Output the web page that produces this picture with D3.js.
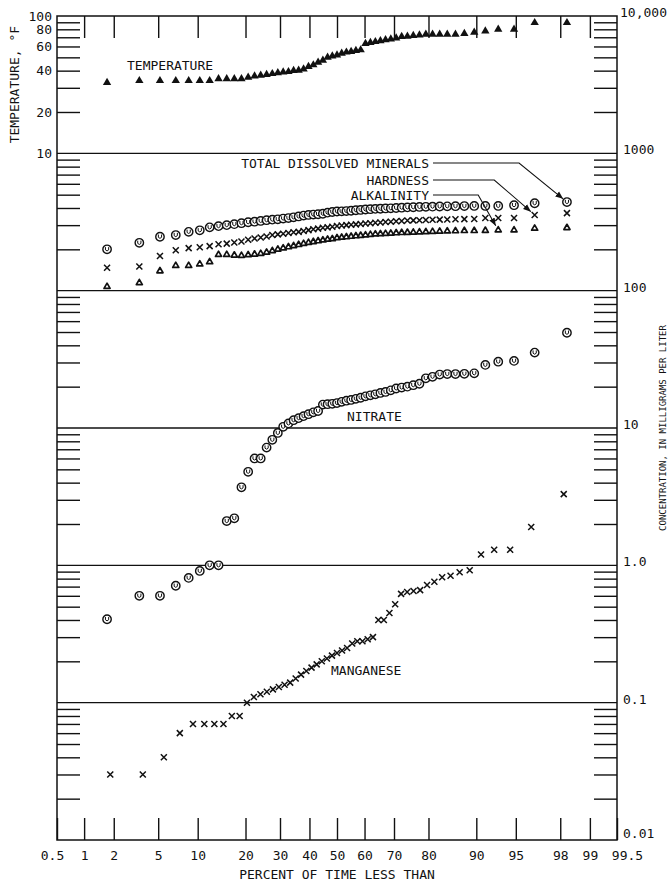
<!DOCTYPE html>
<html>
<head>
<meta charset="utf-8">
<script src="https://cdn.jsdelivr.net/npm/d3@7"></script>
<style>
    body { margin: 0; background: #fff; }
    svg text { font-family: "DejaVu Sans Mono", monospace; font-size: 13px; fill: #111; }
</style>
</head>
<body>
<div id="chart"></div>
<script>
// x axis: percent of time less than (probability scale)
const percentTicks = [0.5, 1, 2, 5, 10, 20, 30, 40, 50, 60, 70, 80, 90, 95, 98, 99, 99.5];
// right axis: concentration, left axis: temperature
const concTickValues = [0.01, 0.1, 1, 10, 100, 1000, 10000];
const concTickLabels = ["0.01", "0.1", "1.0", "10", "100", "1000", "10,000"];
const tempTickValues = [10, 20, 40, 60, 80, 100];

// plotting positions (percent) of the 57 samples and of the 53 manganese samples
const pct57 = [1.72, 3.45, 5.17, 6.90, 8.62, 10.34, 12.07, 13.79, 15.52, 17.24, 18.97, 20.69, 22.41, 24.14, 25.86,
    27.59, 29.31, 31.03, 32.76, 34.48, 36.21, 37.93, 39.66, 41.38, 43.10, 44.83, 46.55, 48.28, 50.00, 51.72, 53.45,
    55.17, 56.90, 58.62, 60.34, 62.07, 63.79, 65.52, 67.24, 68.97, 70.69, 72.41, 74.14, 75.86, 77.59, 79.31, 81.03,
    82.76, 84.48, 86.21, 87.93, 89.66, 91.38, 93.10, 94.83, 96.55, 98.28];
const pct53 = [1.85, 3.70, 5.56, 7.41, 9.26, 11.11, 12.96, 14.81, 16.67, 18.52, 20.37, 22.22, 24.07, 25.93, 27.78,
    29.63, 31.48, 33.33, 35.19, 37.04, 38.89, 40.74, 42.59, 44.44, 46.30, 48.15, 50.00, 51.85, 53.70, 55.56, 57.41,
    59.26, 61.11, 62.96, 64.81, 66.67, 68.52, 70.37, 72.22, 74.07, 75.93, 77.78, 79.63, 81.48, 83.33, 85.19, 87.04,
    88.89, 90.74, 92.59, 94.44, 96.30, 98.15];

// temperature, deg F
const temperature = [32.7, 33.8, 33.8, 33.8, 33.8, 33.8, 33.8, 34.9, 34.9, 34.9, 34.9, 35.8, 36.5, 37.0, 37.5,
    38.0, 38.6, 39.0, 39.3, 40.0, 40.2, 41.0, 42.8, 44.0, 46.0, 47.5, 50.0, 51.0, 52.0, 53.5, 54.5, 55.0, 56.0, 56.6,
    63.0, 64.0, 65.0, 66.0, 67.0, 68.0, 69.0, 70.7, 71.0, 72.0, 72.7, 73.6, 73.6, 73.6, 73.6, 73.6, 74.5, 76.1, 77.8,
    80.0, 80.0, 89.4, 89.4];
// mg/L
const dissolvedMinerals = [200, 223, 247, 254, 268, 275, 289, 295, 300, 305, 310, 315, 318, 322, 326, 329, 331, 335,
    338, 342, 347, 352, 356, 358, 360, 363, 370, 374, 377, 378, 380, 382, 385, 387, 390, 392, 394, 395, 397, 398, 400,
    402, 404, 405, 407, 408, 409, 410, 411, 412, 413, 414, 414, 414, 419, 433, 442];
const hardness = [147, 150, 179, 197, 204, 207, 211, 218, 220, 224, 228, 235, 240, 244, 248, 254, 257, 260, 263, 266,
    268, 272, 276, 280, 283, 287, 289, 292, 296, 298, 300, 302, 304, 306, 308, 310, 312, 314, 316, 318, 320, 322, 324,
    325, 326, 327, 328, 329, 330, 331, 332, 333, 338, 338, 338, 356, 367];
const alkalinity = [107, 114, 139, 152, 152, 156, 162, 183, 183, 181, 180, 182, 184, 186, 190, 195, 200, 204, 208,
    212, 216, 220, 224, 227, 230, 233, 236, 238, 242, 244, 246, 248, 250, 252, 254, 256, 258, 259, 260, 261, 263, 264,
    265, 266, 267, 268, 269, 270, 271, 272, 273, 273, 274, 276, 276, 284, 287];
const nitrate = [0.405, 0.60, 0.60, 0.71, 0.81, 0.91, 1.0, 1.0, 2.1, 2.2, 3.7, 4.8, 6.0, 6.0, 7.2, 8.2, 9.2, 10.2,
    10.8, 11.4, 11.8, 12.2, 12.6, 13.0, 13.3, 14.8, 14.9, 15.0, 15.2, 15.5, 15.8, 16.0, 16.3, 16.6, 17.0, 17.3, 17.6,
    18.0, 18.3, 18.8, 19.4, 19.7, 20.0, 20.5, 21.0, 23.0, 23.6, 24.5, 24.7, 24.7, 24.8, 25.0, 28.8, 30.4, 30.8, 35.4,
    49.4];
const manganese = [0.030, 0.030, 0.040, 0.060, 0.070, 0.070, 0.070, 0.070, 0.080, 0.080, 0.100, 0.110, 0.115, 0.120,
    0.125, 0.130, 0.135, 0.140, 0.150, 0.160, 0.170, 0.180, 0.190, 0.200, 0.210, 0.220, 0.230, 0.240, 0.250, 0.270,
    0.280, 0.280, 0.290, 0.300, 0.400, 0.400, 0.450, 0.520, 0.620, 0.640, 0.650, 0.660, 0.720, 0.760, 0.820, 0.840,
    0.890, 0.920, 1.20, 1.30, 1.30, 1.90, 3.30];

// inverse of the standard normal distribution (Acklam's approximation)
function normInv(p) {
    const a = [-3.969683028665376e+01, 2.209460984245205e+02, -2.759285104469687e+02, 1.383577518672690e+02, -3.066479806614716e+01, 2.506628277459239e+00];
    const b = [-5.447609879822406e+01, 1.615858368580409e+02, -1.556989798598866e+02, 6.680131188771972e+01, -1.328068155288572e+01];
    const c = [-7.784894002430293e-03, -3.223964580411365e-01, -2.400758277161838e+00, -2.549732539343734e+00, 4.374664141464968e+00, 2.938163982698783e+00];
    const d = [7.784695709041462e-03, 3.224671290700398e-01, 2.445134137142996e+00, 3.754408661907416e+00];
    const pl = 0.02425;
    let q, r;
    if (p < pl) {
        q = Math.sqrt(-2 * Math.log(p));
        return (((((c[0] * q + c[1]) * q + c[2]) * q + c[3]) * q + c[4]) * q + c[5]) / ((((d[0] * q + d[1]) * q + d[2]) * q + d[3]) * q + 1);
    }
    if (p > 1 - pl) {
        q = Math.sqrt(-2 * Math.log(1 - p));
        return -(((((c[0] * q + c[1]) * q + c[2]) * q + c[3]) * q + c[4]) * q + c[5]) / ((((d[0] * q + d[1]) * q + d[2]) * q + d[3]) * q + 1);
    }
    q = p - 0.5;
    r = q * q;
    return (((((a[0] * r + a[1]) * r + a[2]) * r + a[3]) * r + a[4]) * r + a[5]) * q / (((((b[0] * r + b[1]) * r + b[2]) * r + b[3]) * r + b[4]) * r + 1);
}

class ProbabilityPlot {
    constructor() {
        this.width = 668;
        this.height = 882;
        this.left = 57;
        this.right = 617;
        this.top = 16;
        this.bottom = 840;
        this.tickLen = 23;

        // linear scale on the normal deviate, then wrapped for percents
        this.zScale = d3.scaleLinear()
            .domain([normInv(0.005), normInv(0.995)])
            .range([this.left, this.right]);

        this.y = d3.scaleLog()
            .domain([0.01, 10000])
            .range([this.bottom, this.top]);

        // temperature shares the top decade
        this.yTemp = d3.scaleLog()
            .domain([10, 100])
            .range([this.y(1000), this.y(10000)]);
    }

    x(p) {
        return this.zScale(normInv(p / 100));
    }

    draw() {
        const that = this;

        const svg = d3.select("#chart").append("svg")
            .attr("width", this.width)
            .attr("height", this.height);

        // Minor log ticks (2..9 of each decade) on both sides
        const minor = this.y.ticks().filter(v => Math.abs(Math.log10(v) - Math.round(Math.log10(v))) > 1e-6);

        const leftTicks = svg.append("g")
            .attr("transform", `translate(${this.left},0)`)
            .call(d3.axisRight(this.y).tickValues(minor).tickSize(this.tickLen).tickFormat(""));
        const rightTicks = svg.append("g")
            .attr("transform", `translate(${this.right},0)`)
            .call(d3.axisLeft(this.y).tickValues(minor).tickSize(this.tickLen).tickFormat(""));
        [leftTicks, rightTicks].forEach(g => {
            g.select(".domain").remove();
            g.selectAll("line").attr("stroke", "#111").attr("stroke-width", 1.4);
        });

        // Decade lines across the whole plot
        svg.append("g")
            .selectAll("line")
            .data([0.1, 1, 10, 100, 1000])
            .enter().append("line")
            .attr("x1", this.left)
            .attr("x2", this.right)
            .attr("y1", d => this.y(d))
            .attr("y2", d => this.y(d))
            .attr("stroke", "#111")
            .attr("stroke-width", 1.3);

        // Right axis labels
        const rightAxis = svg.append("g")
            .attr("transform", `translate(${this.right},0)`)
            .call(d3.axisRight(this.y)
                .tickValues(concTickValues)
                .tickSize(0)
                .tickPadding(6)
                .tickFormat((d, i) => concTickLabels[i]));
        rightAxis.select(".domain").remove();
        rightAxis.selectAll("text")
            .attr("font-family", null).attr("font-size", null)
            .attr("dy", (d) => d === 0.01 ? "-0.2em" : "0.05em")
            .attr("dx", (d) => d === 10000 ? -3 : 0);

        // Left temperature labels
        const leftAxis = svg.append("g")
            .attr("transform", `translate(${this.left},0)`)
            .call(d3.axisLeft(this.yTemp)
                .tickValues(tempTickValues)
                .tickSize(0)
                .tickPadding(5)
                .tickFormat(d3.format("d")));
        leftAxis.select(".domain").remove();
        leftAxis.selectAll("text").attr("font-family", null).attr("font-size", null);

        // Percent ticks, bottom and top
        const zTicks = percentTicks.map(p => normInv(p / 100));
        const bottomAxis = svg.append("g")
            .attr("transform", `translate(0,${this.bottom})`)
            .call(d3.axisBottom(this.zScale)
                .tickValues(zTicks)
                .tickSizeInner(-22)
                .tickSizeOuter(0)
                .tickPadding(11)
                .tickFormat((d, i) => String(percentTicks[i])));
        bottomAxis.select(".domain").remove();
        bottomAxis.selectAll("line").attr("stroke", "#111").attr("stroke-width", 1.4);
        bottomAxis.selectAll("text")
            .attr("font-family", null).attr("font-size", null)
            .attr("dx", (d, i) => i === 0 ? -5 : (i === percentTicks.length - 1 ? 10 : 0));

        const topAxis = svg.append("g")
            .attr("transform", `translate(0,${this.top})`)
            .call(d3.axisTop(this.zScale)
                .tickValues(zTicks.slice(1, -1))
                .tickSizeInner(-22)
                .tickSizeOuter(0)
                .tickFormat(""));
        topAxis.select(".domain").remove();
        topAxis.selectAll("line").attr("stroke", "#111").attr("stroke-width", 1.4);

        // Frame
        svg.append("rect")
            .attr("x", this.left)
            .attr("y", this.top)
            .attr("width", this.right - this.left)
            .attr("height", this.bottom - this.top)
            .attr("fill", "none")
            .attr("stroke", "#111")
            .attr("stroke-width", 1.5);

        // Axis titles
        svg.append("text")
            .attr("transform", `translate(19,${(this.top + this.y(1000)) / 2}) rotate(-90)`)
            .attr("text-anchor", "middle")
            .text("TEMPERATURE, \u00B0F");

        svg.append("text")
            .attr("x", (this.left + this.right) / 2)
            .attr("y", 879)
            .attr("text-anchor", "middle")
            .text("PERCENT OF TIME LESS THAN");

        // right title squeezed against the page edge
        svg.append("text")
            .attr("transform", `translate(666,${(this.top + this.bottom) / 2}) rotate(-90)`)
            .attr("text-anchor", "middle")
            .style("font-size", "9px")
            .text("CONCENTRATION, IN MILLIGRAMS PER LITER");

        // Markers
        const pts = (ps, vs, scale) => vs.map((v, i) => [that.x(ps[i]), scale(v)]);

        const drawCross = (data) => svg.append("g")
            .selectAll("path").data(data).enter().append("path")
            .attr("transform", d => `translate(${d[0]},${d[1]})`)
            .attr("d", "M-3,-3L3,3M-3,3L3,-3")
            .attr("stroke", "#111")
            .attr("stroke-width", 1.5)
            .attr("fill", "none");

        const drawCircle = (data) => {
            const g = svg.append("g")
                .selectAll("g").data(data).enter().append("g")
                .attr("transform", d => `translate(${d[0]},${d[1]})`);
            g.append("circle")
                .attr("r", 4.2)
                .attr("fill", "#fff")
                .attr("stroke", "#111")
                .attr("stroke-width", 1.4);
            g.append("path")
                .attr("d", "M-1.6,-2.2V0.6Q0,2.6 1.6,0.6V-2.2")
                .attr("fill", "none")
                .attr("stroke", "#111")
                .attr("stroke-width", 1);
        };

        const triangle = d3.symbol().type(d3.symbolTriangle);

        // temperature, filled triangles
        svg.append("g")
            .selectAll("path").data(pts(pct57, temperature, this.yTemp)).enter().append("path")
            .attr("transform", d => `translate(${d[0]},${d[1]})`)
            .attr("d", triangle.size(30))
            .attr("fill", "#111");

        // alkalinity, heavy open triangles
        svg.append("g")
            .selectAll("path").data(pts(pct57, alkalinity, this.y)).enter().append("path")
            .attr("transform", d => `translate(${d[0]},${d[1]})`)
            .attr("d", triangle.size(16))
            .attr("fill", "#fff")
            .attr("stroke", "#111")
            .attr("stroke-width", 1.7)
            .attr("stroke-linejoin", "round");

        drawCross(pts(pct57, hardness, this.y));
        drawCircle(pts(pct57, dissolvedMinerals, this.y));
        drawCircle(pts(pct57, nitrate, this.y));
        drawCross(pts(pct53, manganese, this.y));

        // Series labels
        svg.append("text").attr("x", 127).attr("y", 70).text("TEMPERATURE");
        svg.append("text").attr("x", 347).attr("y", 421).text("NITRATE");
        svg.append("text").attr("x", 331).attr("y", 675).text("MANGANESE");

        // Labels with leader arrows pointing at a sample
        svg.append("defs").append("marker")
            .attr("id", "arrow")
            .attr("viewBox", "0 0 10 10")
            .attr("refX", 10).attr("refY", 5)
            .attr("markerWidth", 7).attr("markerHeight", 7)
            .attr("orient", "auto")
            .append("path")
            .attr("d", "M0,1L10,5L0,9Z")
            .attr("fill", "#111");

        const leaders = [
            { text: "TOTAL DISSOLVED MINERALS", ty: 163, elbow: 95.3, pct: pct57[56], value: dissolvedMinerals[56] },
            { text: "HARDNESS", ty: 180, elbow: 92.6, pct: pct57[55], value: hardness[55] },
            { text: "ALKALINITY", ty: 195, elbow: 90.3, pct: pct57[53], value: alkalinity[53] }
        ];

        leaders.forEach(l => {
            svg.append("text")
                .attr("x", 429)
                .attr("y", l.ty)
                .attr("dy", "0.35em")
                .attr("text-anchor", "end")
                .text(l.text);
            const tx = that.x(l.pct), ty = that.y(l.value);
            const ex = that.x(l.elbow);
            const ang = Math.atan2(ty - l.ty, tx - ex);
            svg.append("path")
                .attr("d", `M433,${l.ty}H${ex}L${tx - 5 * Math.cos(ang)},${ty - 5 * Math.sin(ang)}`)
                .attr("fill", "none")
                .attr("stroke", "#111")
                .attr("stroke-width", 1.1)
                .attr("marker-end", "url(#arrow)");
        });
    }
}

const plot = new ProbabilityPlot();
plot.draw();
</script>
</body>
</html>
